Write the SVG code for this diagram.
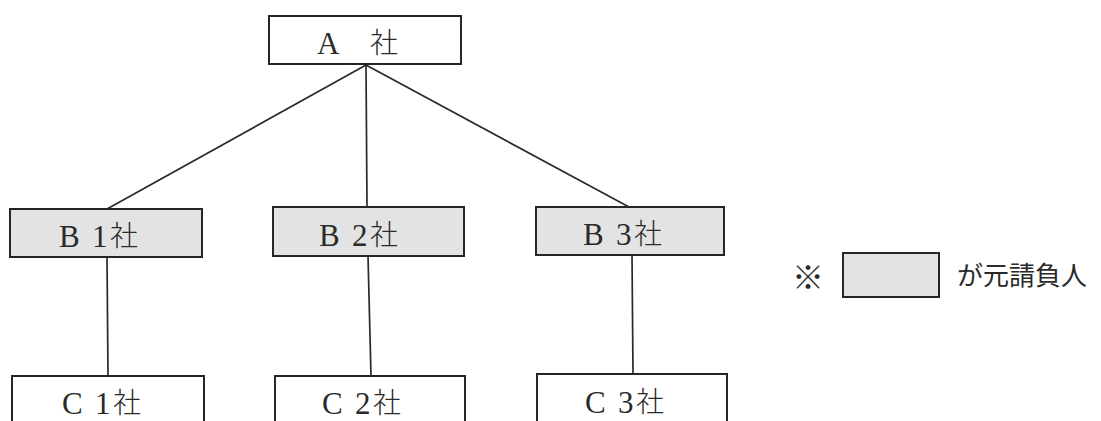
<svg xmlns="http://www.w3.org/2000/svg" width="1101" height="421" viewBox="0 0 1101 421">
  <style>
    .box { fill: #ffffff; stroke: #262626; stroke-width: 2; }
    .prime { fill: #e3e3e3; stroke: #262626; stroke-width: 2; }
    .link { stroke: #2a2a2a; stroke-width: 1.7; fill: none; }
    .lat { font-family: "Liberation Serif", "Noto Sans CJK JP", serif; font-size: 31px; fill: #2a2a2a; }
    .kanji { font-family: "Noto Sans CJK JP", sans-serif; font-weight: 300; font-size: 28px; fill: #2a2a2a; }
    .note { font-family: "Noto Sans CJK JP", sans-serif; font-weight: 400; font-size: 26px; fill: #2a2a2a; }
    .mark { font-family: "Noto Sans CJK JP", sans-serif; font-weight: 300; font-size: 32px; fill: #2a2a2a; }
  </style>

  <!-- connectors -->
  <g id="connectors">
    <line class="link" x1="366" y1="65" x2="107" y2="209"/>
    <line class="link" x1="366" y1="65" x2="367" y2="207"/>
    <line class="link" x1="366" y1="65" x2="629" y2="207"/>
    <line class="link" x1="107" y1="257" x2="108" y2="376"/>
    <line class="link" x1="368" y1="256" x2="371" y2="376"/>
    <line class="link" x1="632" y1="255" x2="633" y2="374"/>
  </g>

  <!-- top company -->
  <g id="node-a">
    <rect class="box" x="269" y="16" width="192" height="48"/>
    <text class="lat" x="317" y="54">A</text>
    <text class="kanji" x="370" y="53">社</text>
  </g>

  <!-- prime contractors -->
  <g id="node-b1">
    <rect class="prime" x="10" y="209" width="192" height="48"/>
    <text class="lat" x="59" y="247">B</text>
    <text class="lat" x="92" y="247">1</text>
    <text class="kanji" x="110" y="246">社</text>
  </g>
  <g id="node-b2">
    <rect class="prime" x="273" y="207" width="191" height="49"/>
    <text class="lat" x="319" y="246">B</text>
    <text class="lat" x="352" y="246">2</text>
    <text class="kanji" x="370" y="245">社</text>
  </g>
  <g id="node-b3">
    <rect class="prime" x="536" y="207" width="188" height="48"/>
    <text class="lat" x="583" y="245">B</text>
    <text class="lat" x="616" y="245">3</text>
    <text class="kanji" x="634" y="244">社</text>
  </g>

  <!-- subcontractors -->
  <g id="node-c1">
    <rect class="box" x="12" y="376" width="192" height="70"/>
    <text class="lat" x="62" y="414">C</text>
    <text class="lat" x="95" y="414">1</text>
    <text class="kanji" x="113" y="413">社</text>
  </g>
  <g id="node-c2">
    <rect class="box" x="275" y="376" width="190" height="70"/>
    <text class="lat" x="322" y="414">C</text>
    <text class="lat" x="355" y="414">2</text>
    <text class="kanji" x="373" y="413">社</text>
  </g>
  <g id="node-c3">
    <rect class="box" x="537" y="374" width="190" height="70"/>
    <text class="lat" x="585" y="413">C</text>
    <text class="lat" x="618" y="413">3</text>
    <text class="kanji" x="636" y="412">社</text>
  </g>

  <!-- legend -->
  <g id="legend">
    <text class="mark" x="792" y="289">※</text>
    <rect class="prime" x="843" y="253" width="96" height="44"/>
    <text class="note" x="957" y="285">が元請負人</text>
  </g>
</svg>
